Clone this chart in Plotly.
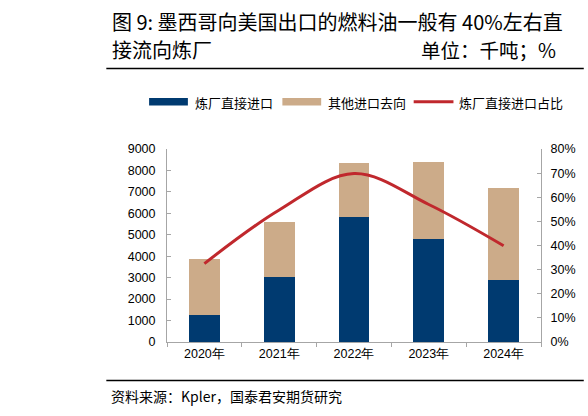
import plotly.graph_objects as go

years = ["2020年", "2021年", "2022年", "2023年", "2024年"]
refinery_direct = [1250, 3050, 5840, 4800, 2870]      # 千吨
other_dest = [2600, 2530, 2530, 3615, 4320]            # 千吨
refinery_share = [32.5, 54.7, 69.8, 57.0, 39.9]        # %

C_BLUE = "#003A70"
C_TAN = "#CCAB89"
C_RED = "#C0282D"
AX = "#A6A6A6"
FONT = "Noto Sans CJK SC"
NUMFONT = "Liberation Sans, Arial, sans-serif"

fig = go.Figure()
fig.add_trace(go.Bar(x=years, y=refinery_direct, name="炼厂直接进口",
                     marker=dict(color=C_BLUE, line=dict(width=0)), width=0.41,
                     showlegend=False))
fig.add_trace(go.Bar(x=years, y=other_dest, name="其他进口去向",
                     marker=dict(color=C_TAN, line=dict(width=0)), width=0.41,
                     showlegend=False))
fig.add_trace(go.Scatter(x=years, y=refinery_share, name="炼厂直接进口占比", yaxis="y2",
                         mode="lines", line=dict(color=C_RED, width=3, shape="spline", smoothing=1.0),
                         showlegend=False))

W, H, L, R, B, T = 588, 416, 167, 45, 74, 149
pw, ph = W - L - R, H - T - B

fig.update_layout(
    width=W, height=H,
    margin=dict(l=L, r=R, t=T, b=B),
    paper_bgcolor="white", plot_bgcolor="white",
    barmode="stack",
    font=dict(family=NUMFONT, size=12.5, color="#000000"),
    xaxis=dict(type="category", showline=True, linecolor=AX, linewidth=1,
               ticks="outside", tickson="boundaries", ticklen=4, tickcolor=AX,
               showgrid=False, tickfont=dict(family=NUMFONT, size=12.5)),
    yaxis=dict(range=[0, 9000], dtick=1000, showline=True, linecolor=AX, linewidth=1,
               ticks="inside", ticklen=4, tickcolor=AX, showgrid=False, zeroline=False,
               ticklabelstandoff=8, tickfont=dict(family=NUMFONT, size=12.5)),
    yaxis2=dict(range=[0, 80], dtick=10, ticksuffix="%", overlaying="y", side="right",
                showline=True, linecolor=AX, linewidth=1, ticks="inside", ticklen=4,
                tickcolor=AX, showgrid=False, zeroline=False, ticklabelstandoff=6,
                tickfont=dict(family=NUMFONT, size=12.5)),
)

shapes = []
annotations = []


def px(x):
    return (x - L) / pw


def py(y):
    return (H - B - y) / ph


def text(s, x, y, anchor="left", size=13, family=FONT):
    annotations.append(dict(text=s, xref="paper", yref="paper", x=px(x), y=py(y),
                            xanchor=anchor, yanchor="middle", showarrow=False,
                            font=dict(family=family, size=size, color="#000000")))


text("图 9: 墨西哥向美国出口的燃料油一般有 40%左右直", 110, 21, size=20)
text("接流向炼厂", 110, 50, size=20)
text("单位：千吨；%", 560, 50, anchor="right", size=19.5)
text("资料来源：Kpler，国泰君安期货研究", 109, 396, size=14)

for y0 in (68.5, 380.5):
    shapes.append(dict(type="line", xref="paper", yref="paper", x0=px(106), x1=px(586),
                       y0=py(y0), y1=py(y0), line=dict(color="#000000", width=1.5)))

# legend
shapes.append(dict(type="rect", xref="paper", yref="paper", x0=px(149), x1=px(188),
                   y0=py(105.5), y1=py(98), fillcolor=C_BLUE, line=dict(width=0)))
text("炼厂直接进口", 193, 102)
shapes.append(dict(type="rect", xref="paper", yref="paper", x0=px(283), x1=px(322),
                   y0=py(105.5), y1=py(98), fillcolor=C_TAN, line=dict(width=0)))
text("其他进口去向", 327, 102)
shapes.append(dict(type="line", xref="paper", yref="paper", x0=px(415), x1=px(455),
                   y0=py(101.7), y1=py(101.7), line=dict(color=C_RED, width=3)))
text("炼厂直接进口占比", 459, 102)

fig.update_layout(shapes=shapes, annotations=annotations)
fig.write_html("out.html", config={"displayModeBar": False},
               post_script="document.body.style.margin='0';document.body.style.overflow='hidden';")
